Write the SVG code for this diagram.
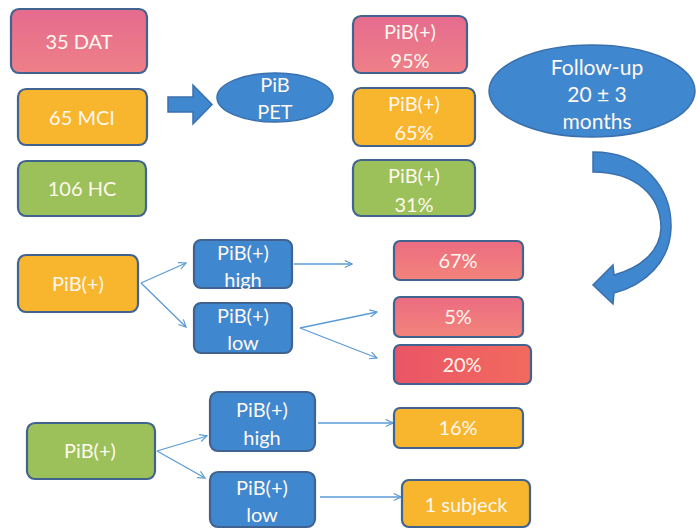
<svg xmlns="http://www.w3.org/2000/svg" width="696" height="529" viewBox="0 0 696 529">
<defs>
<linearGradient id="gPink" x1="0" y1="0" x2="0" y2="1"><stop offset="0" stop-color="#e56b8e"/><stop offset="1" stop-color="#ee8088"/></linearGradient>
<linearGradient id="gPink2" x1="0" y1="0" x2="0" y2="1"><stop offset="0" stop-color="#ec6c82"/><stop offset="1" stop-color="#f2847a"/></linearGradient>
<linearGradient id="gRed" x1="0" y1="0" x2="1" y2="0"><stop offset="0" stop-color="#ea5566"/><stop offset="1" stop-color="#f26a5e"/></linearGradient>
<marker id="ah" viewBox="0 0 10 10" refX="9" refY="5" markerWidth="9" markerHeight="9" orient="auto" markerUnits="userSpaceOnUse"><path d="M1 1 L9 5 L1 9" fill="none" stroke="#5b9bd5" stroke-width="1.3"/></marker>
<style>
.box{stroke:#41638f;stroke-width:2.2}
.pink{fill:url(#gPink)}
.pink2{fill:url(#gPink2)}
.red{fill:url(#gRed)}
.orange{fill:#f8b52e}
.green{fill:#9cc15a}
.blue{fill:#3f87cf}
.blueshape{fill:#3f87cf;stroke:#3a70ad;stroke-width:1.5}
text{font-family:"Lato","Open Sans","Liberation Sans",sans-serif;font-size:20px;fill:#fff8ee;text-anchor:middle}
.big{font-size:21px}
.conn{stroke:#5b9bd5;stroke-width:1.3;fill:none;marker-end:url(#ah)}
</style>
</defs>
<g id="connectors">
<path d="M168 97 H193 V85 L212 104.5 L193 124 V112 H168 Z" class="blueshape"/>
<path d="M593 152 C645 152 672 190 671 228 C670 262 645 285 614 293 L613 304 L593 285 L613 265 L614 275 C640 268 660 252 661 228 C661 195 635 172 593 172 Z" class="blueshape"/>
<line x1="141" y1="283" x2="186" y2="263" class="conn"/>
<line x1="141" y1="283" x2="186" y2="327" class="conn"/>
<line x1="294" y1="264" x2="352" y2="264" class="conn"/>
<line x1="300" y1="328" x2="377" y2="312" class="conn"/>
<line x1="300" y1="328" x2="377" y2="358" class="conn"/>
<line x1="157" y1="451" x2="207" y2="436" class="conn"/>
<line x1="157" y1="451" x2="205" y2="478" class="conn"/>
<line x1="318" y1="423" x2="393" y2="423" class="conn"/>
<line x1="320" y1="497" x2="401" y2="497" class="conn"/>
</g>
<g id="n35dat"><rect x="11" y="9" width="136" height="64" rx="8" class="box pink"/><text x="79" y="49">35 DAT</text></g>
<g id="n65mci"><rect x="18" y="89" width="129" height="56" rx="8" class="box orange"/><text x="82" y="125">65 MCI</text></g>
<g id="n106hc"><rect x="18" y="161" width="128" height="55" rx="8" class="box green"/><text x="82" y="196">106 HC</text></g>
<g id="npibpet"><ellipse cx="275" cy="97.5" rx="58" ry="24.5" class="blueshape"/><text x="275" y="92">PiB</text><text x="275" y="119">PET</text></g>
<g id="n95"><rect x="353" y="16" width="114" height="57" rx="8" class="box pink"/><text x="410" y="39">PiB(+)</text><text x="410" y="68">95%</text></g>
<g id="n65"><rect x="353" y="88" width="122" height="58" rx="8" class="box orange"/><text x="414" y="111">PiB(+)</text><text x="414" y="140">65%</text></g>
<g id="n31"><rect x="353" y="160" width="122" height="56" rx="8" class="box green"/><text x="414" y="183">PiB(+)</text><text x="414" y="212">31%</text></g>
<g id="nfollow"><ellipse cx="592" cy="91" rx="103" ry="46" class="blueshape"/><text class="big" x="597" y="75">Follow-up</text><text class="big" x="597" y="102">20 ± 3</text><text class="big" x="597" y="129">months</text></g>
<g id="nmcipos"><rect x="18" y="255" width="120" height="57" rx="8" class="box orange"/><text x="78" y="291">PiB(+)</text></g>
<g id="nmcihigh"><rect x="194" y="240" width="98" height="48" rx="7" class="box blue"/><text x="243" y="260">PiB(+)</text><text x="243" y="287">high</text></g>
<g id="nmcilow"><rect x="194" y="303" width="98" height="50" rx="7" class="box blue"/><text x="243" y="323">PiB(+)</text><text x="243" y="350">low</text></g>
<g id="n67"><rect x="394" y="241" width="129" height="39" rx="6" class="box pink2"/><text x="458" y="268">67%</text></g>
<g id="n5"><rect x="394" y="297" width="129" height="40" rx="6" class="box pink2"/><text x="458" y="324">5%</text></g>
<g id="n20"><rect x="394" y="345" width="137" height="39" rx="6" class="box red"/><text x="462" y="372">20%</text></g>
<g id="nhcpos"><rect x="27" y="423" width="128" height="56" rx="8" class="box green"/><text x="90" y="458">PiB(+)</text></g>
<g id="nhchigh"><rect x="210" y="392" width="105" height="59" rx="8" class="box blue"/><text x="262" y="417">PiB(+)</text><text x="262" y="445">high</text></g>
<g id="nhclow"><rect x="210" y="472" width="105" height="55" rx="8" class="box blue"/><text x="262" y="495">PiB(+)</text><text x="262" y="522">low</text></g>
<g id="n16"><rect x="394" y="408" width="129" height="40" rx="6" class="box orange"/><text x="458" y="435">16%</text></g>
<g id="nsubj"><rect x="402" y="480" width="128" height="47" rx="7" class="box orange"/><text x="466" y="512">1 subjeck</text></g>
</svg>
